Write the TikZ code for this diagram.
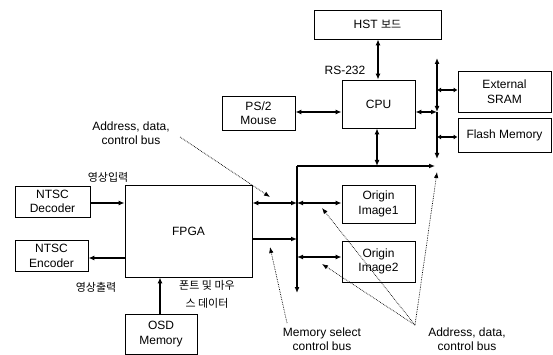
\documentclass[tikz,border=0pt]{standalone}
\usepackage{fontspec}
\setmainfont{Liberation Sans}
\newfontfamily\kr{Noto Sans CJK KR}
\usetikzlibrary{arrows.meta}
\begin{document}
\begin{tikzpicture}[x=1pt,y=-1pt,
  blk/.style={draw,line width=0.8pt,inner sep=0pt,align=center,font=\fontsize{12}{14.5}\selectfont},
  lbl/.style={inner sep=0pt,align=center,font=\fontsize{12}{14.5}\selectfont},
  klbl/.style={inner sep=0pt,align=center,font=\kr\fontsize{11}{18}\selectfont},
  bus/.style={line width=1.3pt,-{Latex[length=6pt,width=5pt]}},
  bbus/.style={line width=1.3pt,{Latex[length=6pt,width=5pt]}-{Latex[length=6pt,width=5pt]}},
  sbus/.style={line width=1.3pt,{Latex[length=4pt,width=5pt]}-{Latex[length=4pt,width=5pt]}},
  line/.style={line width=1.3pt},
  note/.style={densely dotted,line width=0.7pt,-{Latex[length=6pt,width=4.5pt]}}]
\useasboundingbox (0,0) rectangle (553,355);
% boxes
\node[blk,minimum width=127pt,minimum height=29pt] (hst) at (377.5,24.5) {HST {\kr\fontsize{11}{13}\selectfont 보드}};
\node[blk,minimum width=73pt,minimum height=48pt] (cpu) at (378.5,104) {CPU};
\node[blk,minimum width=73pt,minimum height=34pt] (ps2) at (258.5,113) {PS/2\\Mouse};
\node[blk,minimum width=93pt,minimum height=41pt] (sram) at (504.5,91.5) {External\\SRAM};
\node[blk,minimum width=93pt,minimum height=34pt] (flash) at (504.5,135) {Flash Memory};
\node[blk,minimum width=127pt,minimum height=92pt] (fpga) at (188.5,231) {FPGA};
\node[blk,minimum width=75pt,minimum height=31pt] (dec) at (52.5,201.5) {NTSC\\Decoder};
\node[blk,minimum width=73pt,minimum height=31pt] (enc) at (51.5,256) {NTSC\\Encoder};
\node[blk,minimum width=72pt,minimum height=40pt] (osd) at (161,334) {OSD\\Memory};
\node[blk,minimum width=73pt,minimum height=38pt] (org1) at (378.5,204) {Origin\\Image1};
\node[blk,minimum width=73pt,minimum height=41pt] (org2) at (378.5,261.5) {Origin\\Image2};
% bus coordinates
\coordinate (rbT) at (437,58);
\coordinate (rbB) at (437,159);
\coordinate (rbC) at (437,112);
\coordinate (rbS) at (437,90);
\coordinate (rbF) at (437,137);
\coordinate (hl) at (297,166);
\coordinate (hr) at (435,166);
\coordinate (cpuB) at (377,166);
\coordinate (mbB) at (297,293);
\coordinate (mb1) at (297,203);
\coordinate (mb2) at (297,239);
\coordinate (mb3) at (297,257);
% CPU side
\draw[bbus] (hst.south -| 378,0) -- (cpu.north -| 378,0);
\draw[bbus] (ps2.east |- 0,112) -- (cpu.west |- 0,112);
\draw[bbus] (rbC) -- (rbT);
\draw[bus] (rbC) -- (rbB);
\draw[bbus] (cpu.east |- rbC) -- (rbC);
\draw[sbus] (rbS) -- (sram.west |- rbS);
\draw[sbus] (rbF) -- (flash.west |- rbF);
\draw[bbus] (cpu.south -| cpuB) -- (cpuB);
\draw[line] (hl) -- (cpuB);
\draw[bus] (cpuB) -- (hr);
% memory bus
\draw[bus] (hl) -- (mbB);
\draw[bbus] (fpga.east |- mb1) -- (mb1);
\draw[bus] (fpga.east |- mb2) -- (mb2);
\draw[bbus] (mb1) -- (org1.west |- mb1);
\draw[bbus] (mb3) -- (org2.west |- mb3);
% video
\draw[bus] (dec.east |- 0,203) -- (fpga.west |- 0,203);
\draw[bus] (fpga.west |- 0,258) -- (enc.east |- 0,258);
\draw[bus] (osd.north -| 160,0) -- (fpga.south -| 160,0);
% labels
\node[lbl] (rs) at (345,70) {RS-232};
\node[klbl] (vin) at (108,177) {영상입력};
\node[klbl] (vout) at (96,287) {영상출력};
\node[klbl] (font) at (207,294) {폰트 및 마우\\스 데이터};
\node[lbl] (adr1) at (131,133) {Address, data,\\control bus};
\node[lbl] (msel) at (322,339) {Memory select\\control bus};
\node[lbl] (adr2) at (467,339) {Address, data,\\control bus};
% annotations
\coordinate (a1s) at (180,137);
\coordinate (a1e) at (270,197);
\coordinate (a2s) at (287,323);
\coordinate (a2e) at (270,247);
\coordinate (a3s) at (415,325);
\coordinate (a3e) at (322,208);
\coordinate (a4e) at (322,264);
\coordinate (a5e) at (437,172);
\draw[note] (a1s) -- (a1e);
\draw[note] (a2s) -- (a2e);
\draw[note] (a3s) -- (a3e);
\draw[note] (a3s) -- (a4e);
\draw[note] (a3s) -- (a5e);
\end{tikzpicture}
\end{document}
